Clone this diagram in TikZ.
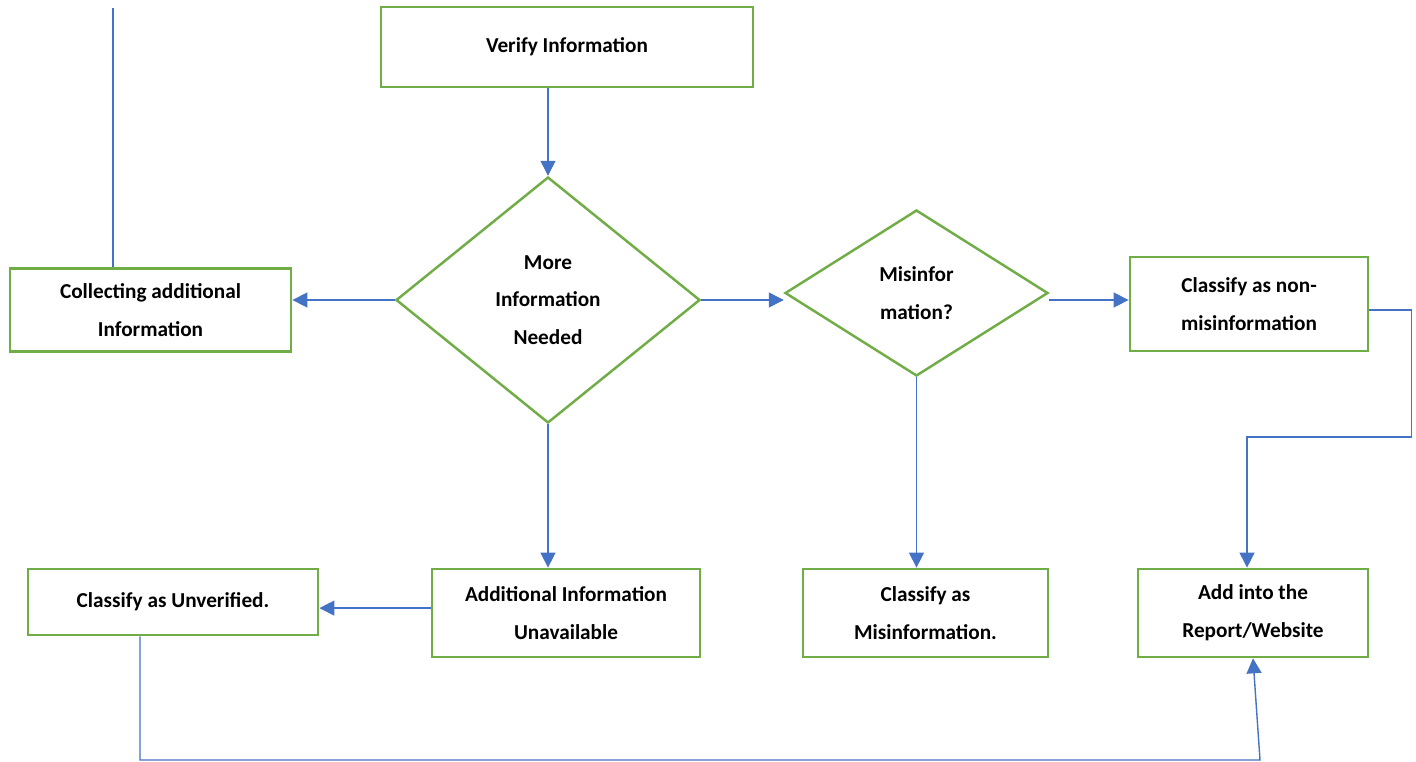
\documentclass[tikz,border=0pt]{standalone}
\usepackage{fontspec}
\setmainfont{Carlito}
\usepackage{tikz}
\usetikzlibrary{arrows.meta, shapes.geometric}
\definecolor{boxgreen}{RGB}{112,173,71}
\definecolor{linkblue}{RGB}{68,114,196}

\begin{document}
\begin{tikzpicture}[x=0.02cm, y=-0.02cm,
      every node/.append style={font=\fontsize{12.1}{21.5}\selectfont\bfseries, align=center},
      box/.style={draw=boxgreen, line width=1.6pt, rectangle, inner sep=0pt},
      decision/.style={draw=boxgreen, line width=1.4pt, diamond, inner sep=0pt},
      link/.style={draw=linkblue, line width=0.8pt},
      arrow/.style={link, -{Triangle[length=8.5pt, width=8.5pt]}}]
    \useasboundingbox (0,0) rectangle (1416,761);
    \node (verify) [box, minimum width=372*0.02cm, minimum height=80*0.02cm] at (567,47) {Verify Information};
    \node (more) [decision, minimum width=304*0.02cm, minimum height=246*0.02cm] at (548,300) {More\\Information\\Needed};
    \node (misinfo) [decision, minimum width=263*0.02cm, minimum height=166*0.02cm] at (916.5,293) {Misinfor\\mation?};
    \node (collect) [box, minimum width=281*0.02cm, minimum height=83*0.02cm] at (150.5,310) {Collecting additional\\Information};
    \node (nonmis) [box, minimum width=238*0.02cm, minimum height=94*0.02cm] at (1249,304) {Classify as non-\\misinformation};
    \node (unavail) [box, minimum width=268*0.02cm, minimum height=88*0.02cm] at (566,613) {Additional Information\\Unavailable};
    \node (unverif) [box, minimum width=290*0.02cm, minimum height=66*0.02cm] at (173,602) {Classify as Unverified.};
    \node (classmis) [box, minimum width=245*0.02cm, minimum height=88*0.02cm] at (925.5,613) {Classify as\\Misinformation.};
    \node (report) [box, minimum width=230*0.02cm, minimum height=88*0.02cm] at (1253,613) {Add into the\\Report/Website};
    \coordinate (topend) at (113,8);
    \coordinate (lowleft) at (140,760);
    \coordinate (lowright) at (1260,760);

    \draw[arrow] (more |- verify.south) -- (more.north);
    \draw[arrow] (more.west) -- (more.west -| collect.east);
    \draw[arrow] (more.east) -- (more.east -| misinfo.west);
    \draw[arrow] (misinfo.east |- more.east) -- (more.east -| nonmis.west);
    \draw[arrow] (more.south) -- (more.south |- unavail.north);
    \draw[arrow] (misinfo.south) -- (misinfo.south |- classmis.north);
    \draw[arrow] ([yshift=2.8pt]unavail.west) -- ([yshift=2.8pt]unavail.west -| unverif.east);
    \draw[link] (collect.north -| topend) -- (topend);
    \draw[arrow] ([yshift=-3.4pt]nonmis.east) -| ++(42,127) -| ([xshift=-3.4pt]report.north);
    \draw[arrow] (unverif.south -| lowleft) -- (lowleft) -- (lowright) -- (report.south);
  \end{tikzpicture}
\end{document}
